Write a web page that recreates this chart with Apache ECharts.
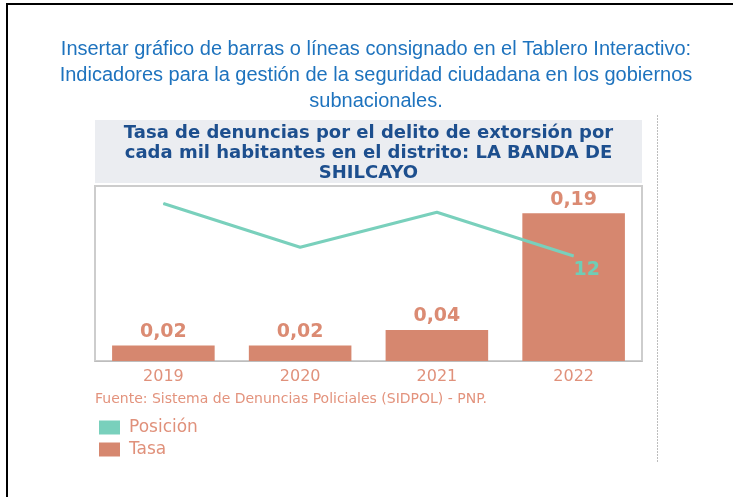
<!DOCTYPE html>
<html>
<head>
<meta charset="utf-8">
<script src="https://cdn.jsdelivr.net/npm/echarts@6/dist/echarts.min.js"></script>
<style>
	html, body { margin: 0; padding: 0; background: #fff; }
	#chart { width: 733px; height: 497px; }
</style>
</head>
<body>
<div id="chart"></div>
<script type="text/javascript">
	// datos del tablero
	var years = ['2019', '2020', '2021', '2022'];
	var tasa = [0.02, 0.02, 0.04, 0.19];
	var posicion = [18, 13, 17, 12];
	var titulo = 'Insertar gráfico de barras o líneas consignado en el Tablero Interactivo:\nIndicadores para la gestión de la seguridad ciudadana en los gobiernos\nsubnacionales.';
	var cabecera = 'Tasa de denuncias por el delito de extorsión por\ncada mil habitantes en el distrito: LA BANDA DE\nSHILCAYO';
	var fuente = 'Fuente: Sistema de Denuncias Policiales (SIDPOL) - PNP.';

	var salmon = '#D6876F';
	var verde = '#79D0BC';

	// solo se etiqueta la ultima posicion
	var posData = posicion.map(function (v, i) {
		if (i === posicion.length - 1) {
			return { value: v, label: { show: true } };
		}
		return v;
	});

	var myChart = echarts.init(document.getElementById('chart'));
	var option = {
		animation: false,
		grid: {
			left: 95, right: 91, top: 186, bottom: 136,
			show: true, borderColor: '#cdcdcd', borderWidth: 2
		},
		legend: {
			orient: 'vertical',
			left: 99, top: 419,
			padding: 0,
			itemWidth: 21, itemHeight: 14, itemGap: 5,
			icon: 'rect',
			data: ['Posición', 'Tasa'],
			textStyle: { color: '#E0917B', fontSize: 17, lineHeight: 17, fontFamily: 'DejaVu Sans', padding: [0, 0, 0, 4] }
		},
		xAxis: {
			type: 'category',
			data: years,
			axisLine: { lineStyle: { color: '#bdbdbd', width: 1 } },
			axisTick: { length: 5, lineStyle: { color: '#9a9a9a' } },
			axisLabel: { color: '#E0917B', fontSize: 16, fontFamily: 'DejaVu Sans', margin: 8 }
		},
		yAxis: [
			{ type: 'value', min: 0, max: 0.225, show: false, splitLine: { show: false } },
			{ type: 'value', min: 0, max: 20, show: false, splitLine: { show: false } }
		],
		series: [
			{
				name: 'Tasa',
				type: 'bar',
				data: tasa,
				barCategoryGap: '25%',
				itemStyle: { color: salmon },
				label: {
					show: true,
					position: 'top',
					distance: 4,
					color: '#DB8B73',
					fontSize: 19,
					fontWeight: 'bold',
					fontFamily: 'DejaVu Sans',
					formatter: function (p) { return p.value.toFixed(2).replace('.', ','); }
				}
			},
			{
				name: 'Posición',
				type: 'line',
				yAxisIndex: 1,
				data: posData,
				symbol: 'circle',
				symbolSize: 1,
				lineStyle: { color: verde, width: 3 },
				itemStyle: { color: verde },
				label: {
					show: false,
					position: 'inside',
					offset: [13, 14],
					color: '#6FCDB5',
					fontSize: 19,
					fontWeight: 'bold',
					fontFamily: 'DejaVu Sans'
				}
			}
		],
		graphic: [
			// marco exterior
			{ type: 'line', shape: { x1: 7, y1: 4, x2: 7, y2: 497 }, style: { stroke: '#000', lineWidth: 2 } },
			{ type: 'line', shape: { x1: 6, y1: 4, x2: 733, y2: 4 }, style: { stroke: '#000', lineWidth: 2 } },
			// linea punteada
			{ type: 'line', shape: { x1: 657.5, y1: 115, x2: 657.5, y2: 462 }, style: { stroke: '#bdbdbd', lineWidth: 1, lineDash: [2, 1] } },
			{
				type: 'text', x: 376, y: 36,
				style: {
					text: titulo, fill: '#1E73BE', fontSize: 20, fontFamily: 'Liberation Sans',
					lineHeight: 26, align: 'center', verticalAlign: 'top'
				}
			},
			{ type: 'rect', shape: { x: 95, y: 120, width: 547, height: 63 }, style: { fill: '#EBEDF1' } },
			{
				type: 'text', x: 368.5, y: 123,
				style: {
					text: cabecera, fill: '#1D4F8E', fontSize: 18, fontWeight: 'bold', fontFamily: 'DejaVu Sans',
					lineHeight: 20, align: 'center', verticalAlign: 'top'
				}
			},
			{
				type: 'text', x: 95, y: 399,
				style: {
					text: fuente, fill: '#E3937D', fontSize: 14, fontFamily: 'DejaVu Sans',
					align: 'left', verticalAlign: 'middle'
				}
			}
		]
	};
	myChart.setOption(option);
</script>
</body>
</html>
